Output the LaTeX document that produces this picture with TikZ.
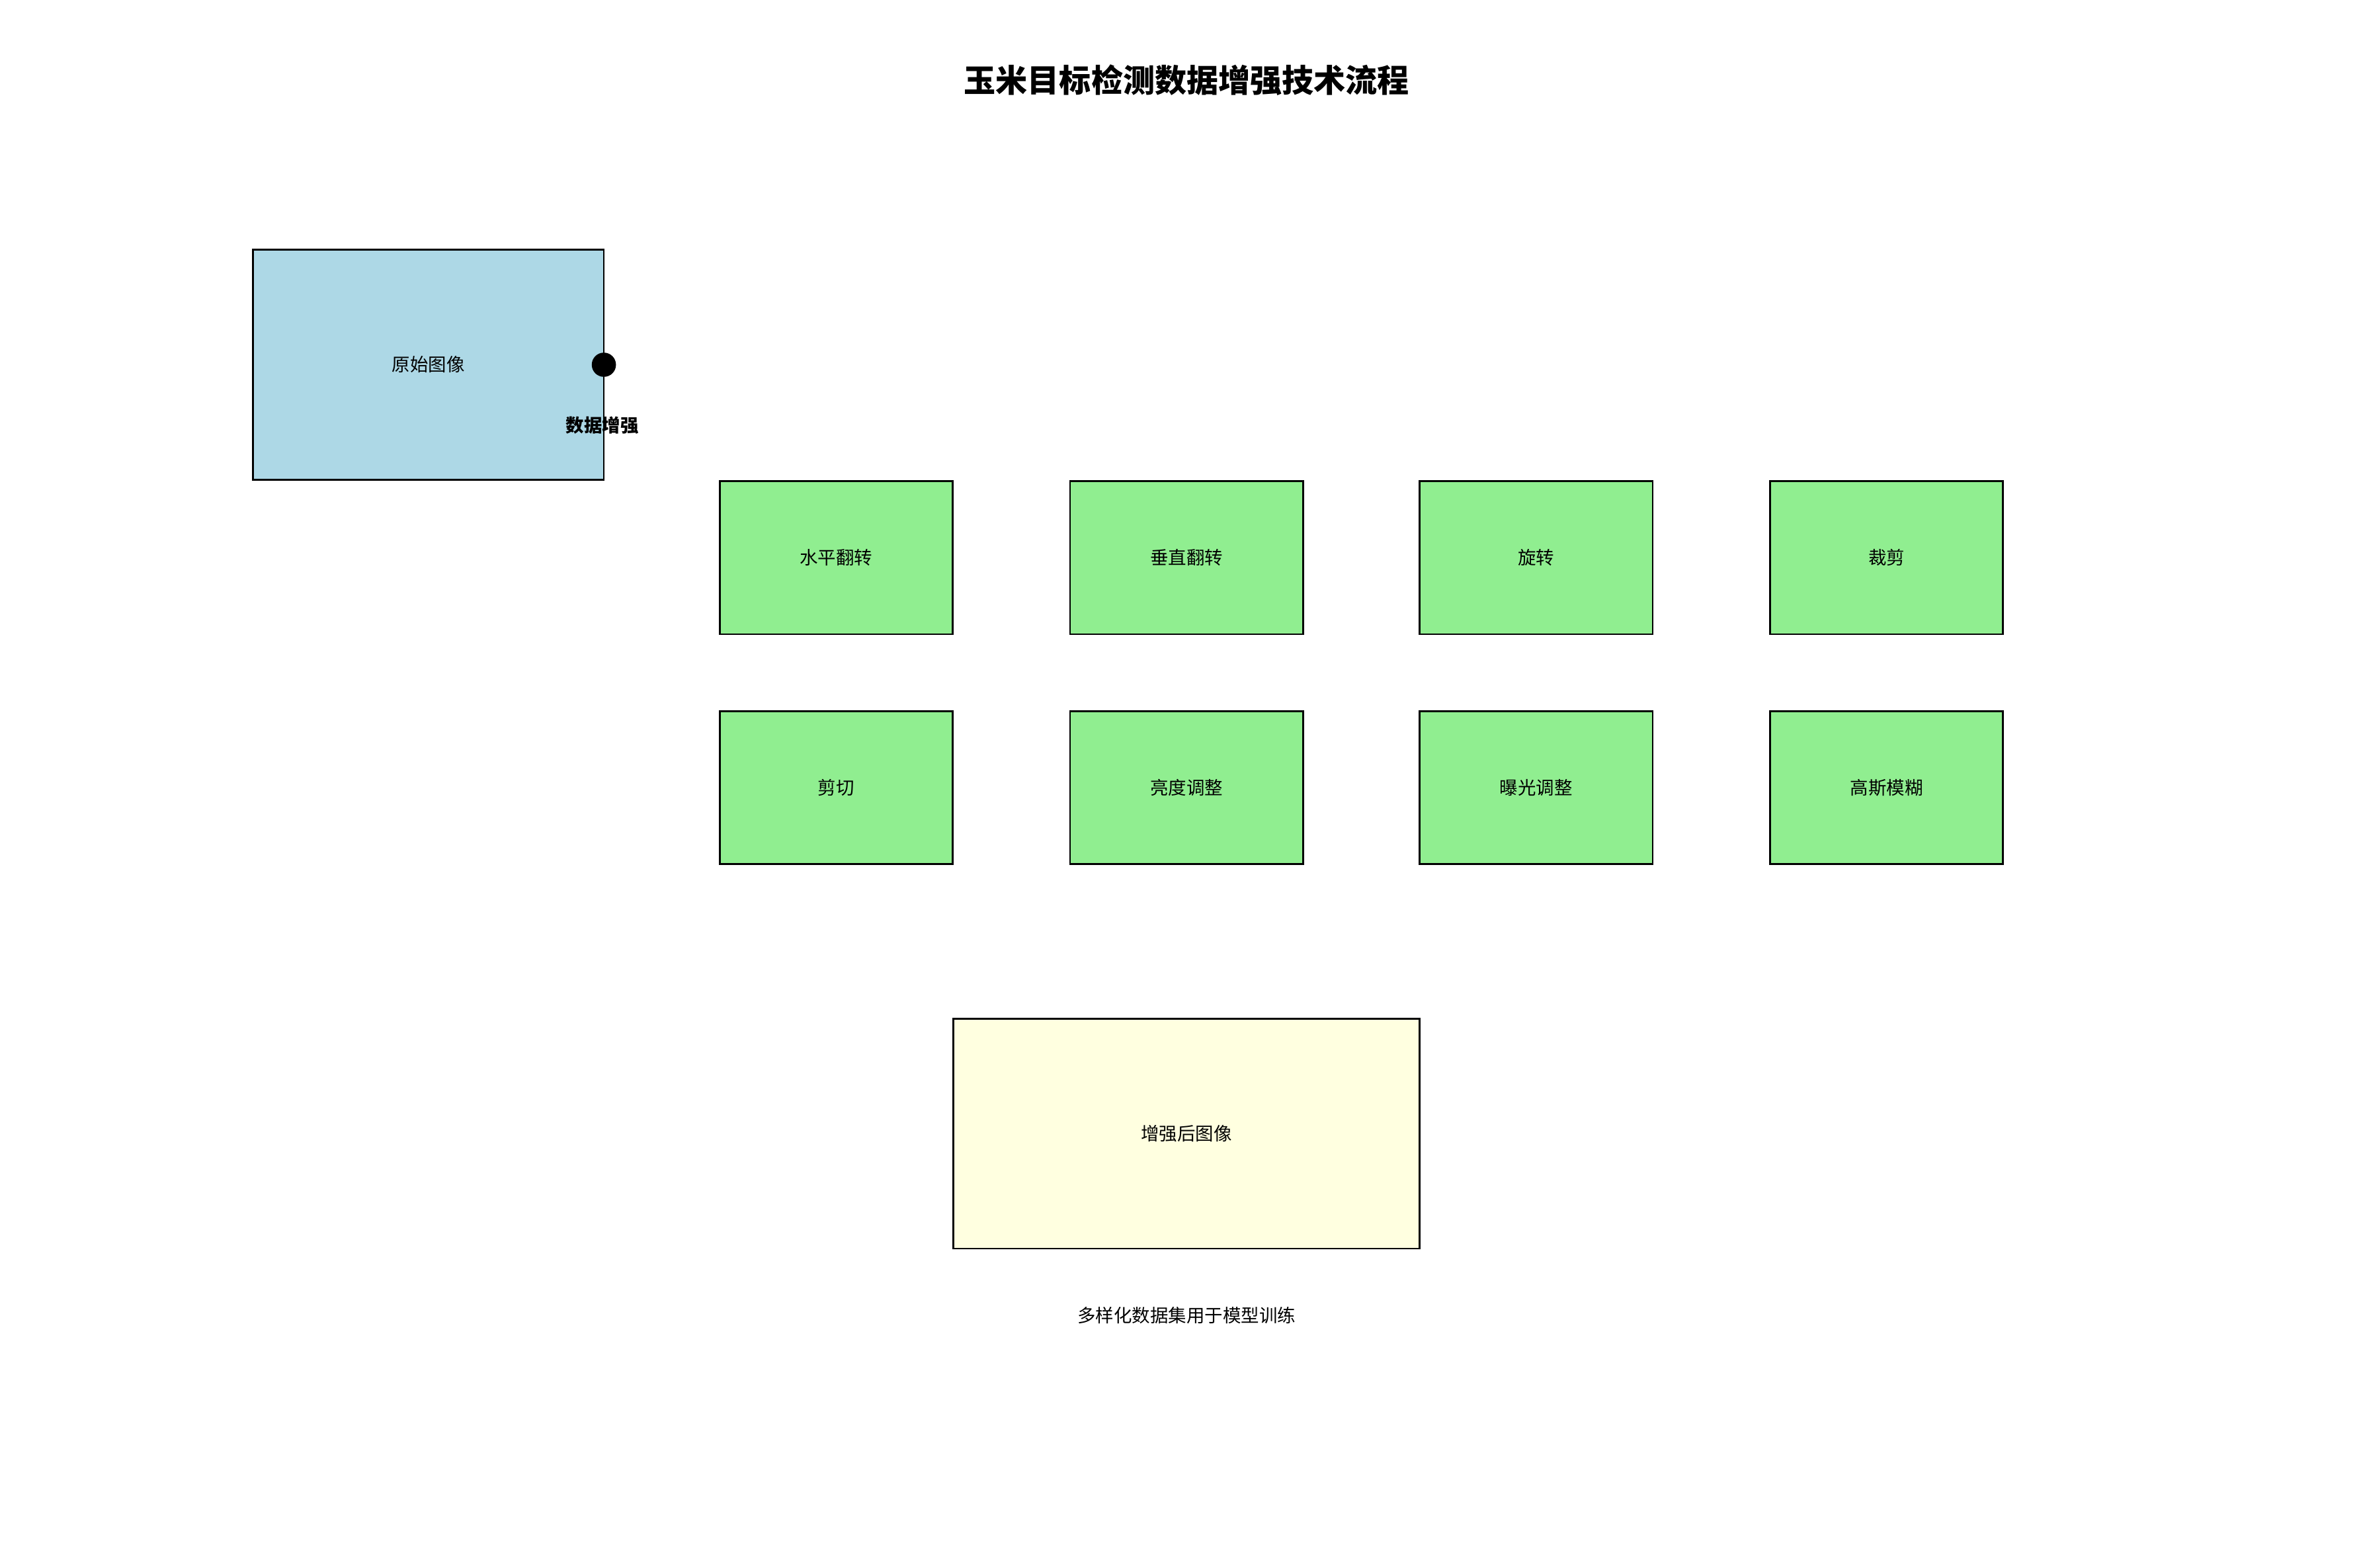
\documentclass[tikz,border=0pt]{standalone}
\usepackage{fontspec}
\setmainfont{Noto Sans CJK SC}
\definecolor{lblue}{HTML}{ADD8E6}
\definecolor{lgreen}{HTML}{90EE90}
\definecolor{lyellow}{HTML}{FFFFE0}
\begin{document}
\begin{tikzpicture}[x=1pt,y=-1pt,
  box/.style={draw=black,line width=1.2pt,inner sep=0pt,font=\fontsize{12}{14}\selectfont},
  gbox/.style={box,fill=lgreen,minimum width=154pt,minimum height=101pt}]
\useasboundingbox (0,0) rectangle (1560,1036);
\node[font=\bfseries\fontsize{21}{24}\selectfont] (title) at (784,53) {玉米目标检测数据增强技术流程};
\node[box,fill=lblue,minimum width=232pt,minimum height=152pt] (orig) at (283,241) {原始图像};
\node[circle,fill=black,inner sep=0pt,minimum size=16pt] (dot) at (399,241) {};
\node[font=\bfseries\fontsize{12}{14}\selectfont] (aug) at (398,281) {数据增强};
\node[gbox] (a1) at (552.5,368.5) {水平翻转};
\node[gbox] (a2) at (784,368.5) {垂直翻转};
\node[gbox] (a3) at (1015,368.5) {旋转};
\node[gbox] (a4) at (1246.5,368.5) {裁剪};
\node[gbox] (b1) at (552.5,520.5) {剪切};
\node[gbox] (b2) at (784,520.5) {亮度调整};
\node[gbox] (b3) at (1015,520.5) {曝光调整};
\node[gbox] (b4) at (1246.5,520.5) {高斯模糊};
\node[box,fill=lyellow,minimum width=308pt,minimum height=152pt] (res) at (784,749) {增强后图像};
\node[font=\fontsize{12}{14}\selectfont] (note) at (784,869) {多样化数据集用于模型训练};
\end{tikzpicture}
\end{document}
